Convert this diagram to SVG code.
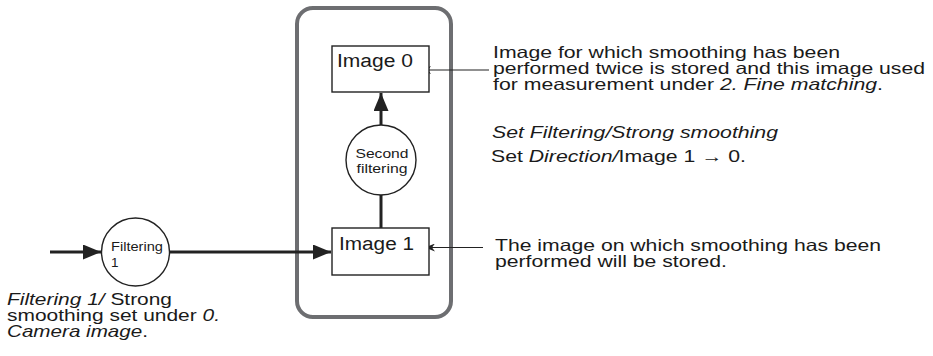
<svg xmlns="http://www.w3.org/2000/svg" width="933" height="356" viewBox="0 0 933 356">
<style>
  text { font-family: "Liberation Sans", Arial, Helvetica, sans-serif; fill: #1a1a1a; }
  .t { font-size: 16.5px; }
  .b { font-size: 18px; }
  .s { font-size: 13.5px; }
  .i { font-style: italic; }
  .box { fill: #fff; stroke: #222; stroke-width: 1.4; }
  .circ { fill: #fff; stroke: #222; stroke-width: 1.4; }
  .cont { fill: none; stroke: #6d6e71; stroke-width: 4; }
  .flow { stroke: #222; stroke-width: 3; fill: none; }
  .lead { stroke: #222; stroke-width: 1.2; fill: none; }
</style>
<defs>
  <marker id="big" markerUnits="userSpaceOnUse" markerWidth="18" markerHeight="15" refX="18" refY="7.5" orient="auto">
    <path d="M0,0 L18,7.5 L0,15 z" fill="#222"/>
  </marker>
  <marker id="small" markerUnits="userSpaceOnUse" markerWidth="10" markerHeight="8" refX="10" refY="4" orient="auto">
    <path d="M0,0 L10,4 L0,8 L3,4 z" fill="#222"/>
  </marker>
</defs>

<g id="container">
  <rect class="cont" x="297" y="8" width="154" height="309" rx="16"/>
</g>

<g id="connectors">
  <line class="flow" x1="50" y1="252" x2="101" y2="252" marker-end="url(#big)"/>
  <line class="flow" x1="170" y1="252" x2="331" y2="252" marker-end="url(#big)"/>
  <line class="flow" x1="381" y1="228" x2="381" y2="195"/>
  <line class="flow" x1="381" y1="125" x2="381" y2="93" marker-end="url(#big)"/>
  <line class="lead" x1="489" y1="70" x2="421" y2="70" marker-end="url(#small)"/>
  <line class="lead" x1="483" y1="247.5" x2="425" y2="247.5" marker-end="url(#small)"/>
</g>

<g id="image0">
  <rect class="box" x="332" y="46" width="97" height="46"/>
  <text class="b" x="337" y="67" textLength="76" lengthAdjust="spacingAndGlyphs">Image 0</text>
</g>

<g id="image1">
  <rect class="box" x="332" y="228" width="97" height="47"/>
  <text class="b" x="339" y="250" textLength="75" lengthAdjust="spacingAndGlyphs">Image 1</text>
</g>

<g id="second-filtering">
  <circle class="circ" cx="381" cy="160" r="35"/>
  <text class="s" x="382" y="158" text-anchor="middle" textLength="53" lengthAdjust="spacingAndGlyphs">Second</text>
  <text class="s" x="382" y="173" text-anchor="middle" textLength="51" lengthAdjust="spacingAndGlyphs">filtering</text>
</g>

<g id="filtering1">
  <circle class="circ" cx="135.5" cy="252" r="34"/>
  <text class="s" x="111" y="251" textLength="52" lengthAdjust="spacingAndGlyphs">Filtering</text>
  <text class="s" x="111" y="267">1</text>
</g>

<g id="note-image0">
  <text class="t" x="493" y="58" textLength="347" lengthAdjust="spacingAndGlyphs">Image for which smoothing has been</text>
  <text class="t" x="493" y="74" textLength="432" lengthAdjust="spacingAndGlyphs">performed twice is stored and this image used</text>
  <text class="t" x="493" y="90" textLength="390" lengthAdjust="spacingAndGlyphs">for measurement under <tspan class="i">2. Fine matching</tspan>.</text>
</g>

<g id="note-setting">
  <text class="t i" x="492" y="138" textLength="286" lengthAdjust="spacingAndGlyphs">Set Filtering/Strong smoothing</text>
  <text class="t" x="491" y="162" textLength="255" lengthAdjust="spacingAndGlyphs">Set <tspan class="i">Direction/</tspan>Image 1 → 0.</text>
</g>

<g id="note-image1">
  <text class="t" x="495" y="251" textLength="386" lengthAdjust="spacingAndGlyphs">The image on which smoothing has been</text>
  <text class="t" x="495" y="267" textLength="232" lengthAdjust="spacingAndGlyphs">performed will be stored.</text>
</g>

<g id="note-filtering1">
  <text class="t" x="7" y="305" textLength="165" lengthAdjust="spacingAndGlyphs"><tspan class="i">Filtering 1/</tspan> Strong</text>
  <text class="t" x="7" y="321" textLength="213" lengthAdjust="spacingAndGlyphs">smoothing set under <tspan class="i">0.</tspan></text>
  <text class="t" x="7" y="337" textLength="141" lengthAdjust="spacingAndGlyphs"><tspan class="i">Camera image</tspan>.</text>
</g>
</svg>
